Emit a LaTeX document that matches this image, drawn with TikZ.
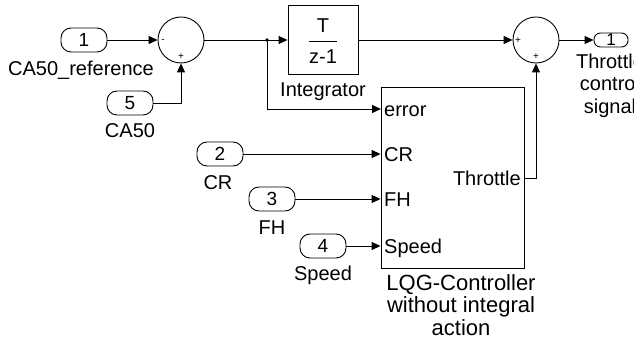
\documentclass[tikz,border=0pt]{standalone}
\usepackage{fontspec}
\setmainfont{Liberation Sans}
\usetikzlibrary{arrows.meta}

\begin{document}
\begin{tikzpicture}[x=1pt,y=-1pt,>={Triangle[length=9pt,width=8pt]},
  every node/.style={font=\fontsize{20}{22.5}\selectfont,inner sep=0pt},
  port/.style={draw,line width=0.9pt,rounded corners=10pt,minimum width=46pt,minimum height=24pt,font=\fontsize{19}{19}\selectfont},
  outport/.style={draw,line width=0.9pt,rounded corners=6.5pt,minimum width=34pt,minimum height=14pt,font=\fontsize{17}{17}\selectfont},
  sumblk/.style={draw,line width=0.9pt,circle,minimum size=46pt},
  block/.style={draw,line width=0.9pt},
  sgn/.style={font=\fontsize{10}{10}\selectfont},
  portlbl/.style={text height=14.5pt,text depth=0pt},
  wire/.style={line width=0.9pt}]
  \useasboundingbox (0,0) rectangle (634,344);
  % sources and sums
  \node[port] (in1) at (84,40) {1};
  \node[anchor=base] (lin1) at (81,76) {CA50\_reference};
  \node[port] (in5) at (130,103) {5};
  \node[anchor=base] (lin5) at (130,138) {CA50};
  \node[sumblk] (sum1) at (181,40) {};
  \node[sgn] (sum1a) at (163,41) {-};
  \node[sgn] (sum1b) at (181,57) {+};
  % integrator
  \node[block,minimum width=70pt,minimum height=69pt] (integ) at (323,40) {};
  \node[anchor=base] (num) at (323,33) {T};
  \node[anchor=base] (den) at (323,64) {z-1};
  \draw[wire] (num.south -| den.west) ++(0,8) coordinate (fl) -- (fl -| den.east);
  \node[anchor=base] (linteg) at (323,97) {Integrator};
  \coordinate (junc) at (267,40);
  % output sum
  \node[sumblk] (sum2) at (536,40) {};
  \node[sgn] (sum2a) at (518,41) {+};
  \node[sgn] (sum2b) at (536,57) {+};
  \node[outport] (out1) at (611,40) {1};
  \node[anchor=north,align=center] (lout) at (610,53.5) {Throttle\\control\\signal};
  % controller
  \node[block,minimum width=143pt,minimum height=181pt] (lqg) at (452.5,177.5) {};
  \node[anchor=north,align=center,font=\fontsize{22}{22.5}\selectfont] (llqg) at (461,274) {LQG-Controller\\without integral\\action};
  \coordinate (perr) at (381,109);
  \coordinate (pthr) at (524,178);
  \node[portlbl,anchor=west] (lerr) at (384,109) {error};
  \node[portlbl,anchor=west] (lcr) at (384,154) {CR};
  \node[portlbl,anchor=west] (lfh) at (384,199) {FH};
  \node[portlbl,anchor=west] (lspd) at (384,246) {Speed};
  \node[portlbl,anchor=east] (lthr) at (521,178) {Throttle};
  \node[port] (in2) at (220,154) {2};
  \node[anchor=base] (lin2) at (218,190) {CR};
  \node[port] (in3) at (272,199) {3};
  \node[anchor=base] (lin3) at (272,235) {FH};
  \node[port] (in4) at (323,246) {4};
  \node[anchor=base] (lin4) at (323,281) {Speed};
  % wires
  \draw[wire,->] (in1) -- (sum1);
  \draw[wire,->] (in5) -| (sum1);
  \draw[wire,->] (sum1) -- (integ);
  \fill (junc) circle (1.8pt);
  \draw[wire,->] (junc) |- (perr);
  \draw[wire,->] (integ) -- (sum2);
  \draw[wire,->] (sum2) -- (out1);
  \draw[wire,->] (pthr) -| (sum2);
  \draw[wire,->] (in2) -- (in2 -| lqg.west);
  \draw[wire,->] (in3) -- (in3 -| lqg.west);
  \draw[wire,->] (in4) -- (in4 -| lqg.west);
\end{tikzpicture}
\end{document}
